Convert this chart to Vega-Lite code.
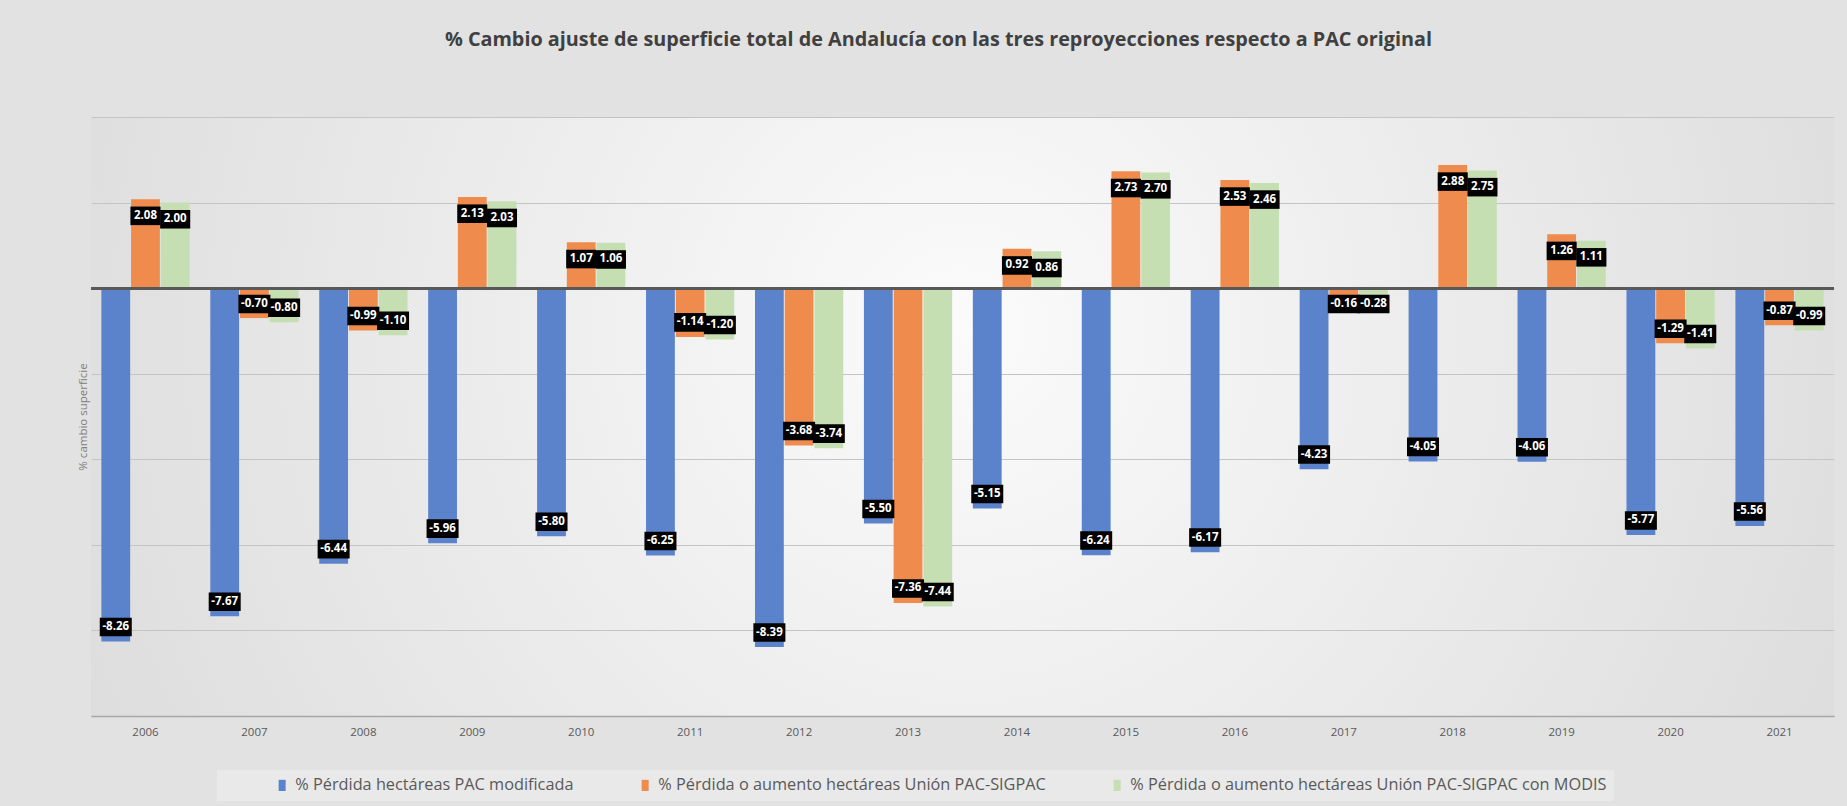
{
  "$schema": "https://vega.github.io/schema/vega-lite/v6.json",
  "width": 1743,
  "height": 599,
  "autosize": {"type": "none"},
  "padding": {"left": 91, "top": 117, "right": 13, "bottom": 90},
  "background": "#e2e2e2",
  "config": {
    "view": {"stroke": null, "fill": {"gradient": "radial", "x1": 0.5, "y1": 0.45, "r1": 0, "x2": 0.5, "y2": 0.45, "r2": 0.75, "stops": [{"offset": 0, "color": "#fbfbfb"}, {"offset": 1, "color": "#d2d2d2"}]}},
    "font": "Open Sans",
    "locale": {"number": {"decimal": ".", "thousands": ",", "grouping": [3], "currency": ["$", ""], "minus": "-"}}
  },
  "title": {
    "text": "% Cambio ajuste de superficie total de Andalucía con las tres reproyecciones respecto a PAC original",
    "font": "Open Sans", "fontSize": 19.8, "fontWeight": "bold", "color": "#404040",
    "anchor": "middle", "dx": -24, "offset": 67
  },
  "data": {"values": [
    {"year": "2006", "serie": "% Pérdida hectáreas PAC modificada", "v": -8.26},
    {"year": "2006", "serie": "% Pérdida o aumento hectáreas Unión PAC-SIGPAC", "v": 2.08},
    {"year": "2006", "serie": "% Pérdida o aumento hectáreas Unión PAC-SIGPAC con MODIS", "v": 2.00},
    {"year": "2007", "serie": "% Pérdida hectáreas PAC modificada", "v": -7.67},
    {"year": "2007", "serie": "% Pérdida o aumento hectáreas Unión PAC-SIGPAC", "v": -0.70},
    {"year": "2007", "serie": "% Pérdida o aumento hectáreas Unión PAC-SIGPAC con MODIS", "v": -0.80},
    {"year": "2008", "serie": "% Pérdida hectáreas PAC modificada", "v": -6.44},
    {"year": "2008", "serie": "% Pérdida o aumento hectáreas Unión PAC-SIGPAC", "v": -0.99},
    {"year": "2008", "serie": "% Pérdida o aumento hectáreas Unión PAC-SIGPAC con MODIS", "v": -1.10},
    {"year": "2009", "serie": "% Pérdida hectáreas PAC modificada", "v": -5.96},
    {"year": "2009", "serie": "% Pérdida o aumento hectáreas Unión PAC-SIGPAC", "v": 2.13},
    {"year": "2009", "serie": "% Pérdida o aumento hectáreas Unión PAC-SIGPAC con MODIS", "v": 2.03},
    {"year": "2010", "serie": "% Pérdida hectáreas PAC modificada", "v": -5.80},
    {"year": "2010", "serie": "% Pérdida o aumento hectáreas Unión PAC-SIGPAC", "v": 1.07},
    {"year": "2010", "serie": "% Pérdida o aumento hectáreas Unión PAC-SIGPAC con MODIS", "v": 1.06},
    {"year": "2011", "serie": "% Pérdida hectáreas PAC modificada", "v": -6.25},
    {"year": "2011", "serie": "% Pérdida o aumento hectáreas Unión PAC-SIGPAC", "v": -1.14},
    {"year": "2011", "serie": "% Pérdida o aumento hectáreas Unión PAC-SIGPAC con MODIS", "v": -1.20},
    {"year": "2012", "serie": "% Pérdida hectáreas PAC modificada", "v": -8.39},
    {"year": "2012", "serie": "% Pérdida o aumento hectáreas Unión PAC-SIGPAC", "v": -3.68},
    {"year": "2012", "serie": "% Pérdida o aumento hectáreas Unión PAC-SIGPAC con MODIS", "v": -3.74},
    {"year": "2013", "serie": "% Pérdida hectáreas PAC modificada", "v": -5.50},
    {"year": "2013", "serie": "% Pérdida o aumento hectáreas Unión PAC-SIGPAC", "v": -7.36},
    {"year": "2013", "serie": "% Pérdida o aumento hectáreas Unión PAC-SIGPAC con MODIS", "v": -7.44},
    {"year": "2014", "serie": "% Pérdida hectáreas PAC modificada", "v": -5.15},
    {"year": "2014", "serie": "% Pérdida o aumento hectáreas Unión PAC-SIGPAC", "v": 0.92},
    {"year": "2014", "serie": "% Pérdida o aumento hectáreas Unión PAC-SIGPAC con MODIS", "v": 0.86},
    {"year": "2015", "serie": "% Pérdida hectáreas PAC modificada", "v": -6.24},
    {"year": "2015", "serie": "% Pérdida o aumento hectáreas Unión PAC-SIGPAC", "v": 2.73},
    {"year": "2015", "serie": "% Pérdida o aumento hectáreas Unión PAC-SIGPAC con MODIS", "v": 2.70},
    {"year": "2016", "serie": "% Pérdida hectáreas PAC modificada", "v": -6.17},
    {"year": "2016", "serie": "% Pérdida o aumento hectáreas Unión PAC-SIGPAC", "v": 2.53},
    {"year": "2016", "serie": "% Pérdida o aumento hectáreas Unión PAC-SIGPAC con MODIS", "v": 2.46},
    {"year": "2017", "serie": "% Pérdida hectáreas PAC modificada", "v": -4.23},
    {"year": "2017", "serie": "% Pérdida o aumento hectáreas Unión PAC-SIGPAC", "v": -0.16},
    {"year": "2017", "serie": "% Pérdida o aumento hectáreas Unión PAC-SIGPAC con MODIS", "v": -0.28},
    {"year": "2018", "serie": "% Pérdida hectáreas PAC modificada", "v": -4.05},
    {"year": "2018", "serie": "% Pérdida o aumento hectáreas Unión PAC-SIGPAC", "v": 2.88},
    {"year": "2018", "serie": "% Pérdida o aumento hectáreas Unión PAC-SIGPAC con MODIS", "v": 2.75},
    {"year": "2019", "serie": "% Pérdida hectáreas PAC modificada", "v": -4.06},
    {"year": "2019", "serie": "% Pérdida o aumento hectáreas Unión PAC-SIGPAC", "v": 1.26},
    {"year": "2019", "serie": "% Pérdida o aumento hectáreas Unión PAC-SIGPAC con MODIS", "v": 1.11},
    {"year": "2020", "serie": "% Pérdida hectáreas PAC modificada", "v": -5.77},
    {"year": "2020", "serie": "% Pérdida o aumento hectáreas Unión PAC-SIGPAC", "v": -1.29},
    {"year": "2020", "serie": "% Pérdida o aumento hectáreas Unión PAC-SIGPAC con MODIS", "v": -1.41},
    {"year": "2021", "serie": "% Pérdida hectáreas PAC modificada", "v": -5.56},
    {"year": "2021", "serie": "% Pérdida o aumento hectáreas Unión PAC-SIGPAC", "v": -0.87},
    {"year": "2021", "serie": "% Pérdida o aumento hectáreas Unión PAC-SIGPAC con MODIS", "v": -0.99}
  ]},
  "encoding": {
    "x": {
      "field": "year", "type": "nominal",
      "scale": {"paddingInner": 0.19, "paddingOuter": 0.095},
      "axis": {"title": null, "ticks": false, "domain": true, "domainColor": "#a6a6a6", "domainWidth": 1.5, "labelAngle": 0, "labelFont": "Open Sans", "labelFontSize": 11.5, "labelColor": "#595959", "labelPadding": 10}
    },
    "xOffset": {
      "field": "serie", "type": "nominal",
      "sort": ["% Pérdida hectáreas PAC modificada", "% Pérdida o aumento hectáreas Unión PAC-SIGPAC", "% Pérdida o aumento hectáreas Unión PAC-SIGPAC con MODIS"],
      "scale": {"paddingInner": 0.03}
    }
  },
  "layer": [
    {
      "mark": {"type": "bar", "opacity": 1},
      "encoding": {
        "y": {
          "field": "v", "type": "quantitative",
          "scale": {"domain": [-10, 4], "nice": false, "zero": false},
          "axis": {"title": "% cambio superficie", "titleFont": "Open Sans", "titleFontSize": 11.5, "titleFontWeight": "normal", "titleColor": "#7f7f7f", "titlePadding": 3, "labels": false, "ticks": false, "domain": false, "grid": true, "gridColor": "#c4c4c4", "gridWidth": 1, "values": [-10, -8, -6, -4, -2, 0, 2, 4]}
        },
        "color": {
          "field": "serie", "type": "nominal",
          "scale": {"domain": ["% Pérdida hectáreas PAC modificada", "% Pérdida o aumento hectáreas Unión PAC-SIGPAC", "% Pérdida o aumento hectáreas Unión PAC-SIGPAC con MODIS"], "range": ["#5B83CC", "#EF8B4C", "#C5DFB3"]},
          "legend": {
            "orient": "none", "legendX": 126, "legendY": 653,
            "direction": "horizontal", "title": " ", "titleOrient": "left", "titlePadding": 50,
            "symbolType": "M -0.5 -0.8 L 0.5 -0.8 L 0.5 0.8 L -0.5 0.8 Z", "symbolSize": 196,
            "symbolStrokeWidth": 0,
            "labelFont": "Open Sans", "labelFontSize": 16.3, "labelColor": "#595959", "labelLimit": 0,
            "labelOffset": 5, "columnPadding": 63,
            "fillColor": "#e9e9e9", "padding": 7
          }
        }
      }
    },
    {
      "mark": {"type": "rule", "color": "#595959", "strokeWidth": 2},
      "encoding": {"y": {"datum": 0}, "x": null, "xOffset": null}
    },
    {
      "transform": [{"calculate": "datum.v >= 0 ? datum.v - 0.39 : min(datum.v + 0.34, -0.37)", "as": "ly"}],
      "mark": {"type": "point", "filled": true, "opacity": 1, "color": "#000000", "strokeWidth": 0, "size": 1024},
      "encoding": {
        "y": {"field": "ly", "type": "quantitative"},
        "shape": {
          "condition": {"test": "datum.v < 0", "value": "M -1 -0.58 L 1 -0.58 L 1 0.58 L -1 0.58 Z"},
          "value": "M -0.94 -0.58 L 0.94 -0.58 L 0.94 0.58 L -0.94 0.58 Z"
        }
      }
    },
    {
      "transform": [
        {"calculate": "datum.v >= 0 ? datum.v - 0.39 : min(datum.v + 0.34, -0.37)", "as": "ly"},
        {"calculate": "replace(format(datum.v, '.2f'), '\u2212', '-')", "as": "lbl"}
      ],
      "mark": {"type": "text", "color": "#ffffff", "font": "Open Sans", "fontSize": 11.5, "fontWeight": "bold", "align": "center", "baseline": "middle"},
      "encoding": {
        "y": {"field": "ly", "type": "quantitative"},
        "text": {"field": "lbl", "type": "nominal"}
      }
    }
  ]
}
